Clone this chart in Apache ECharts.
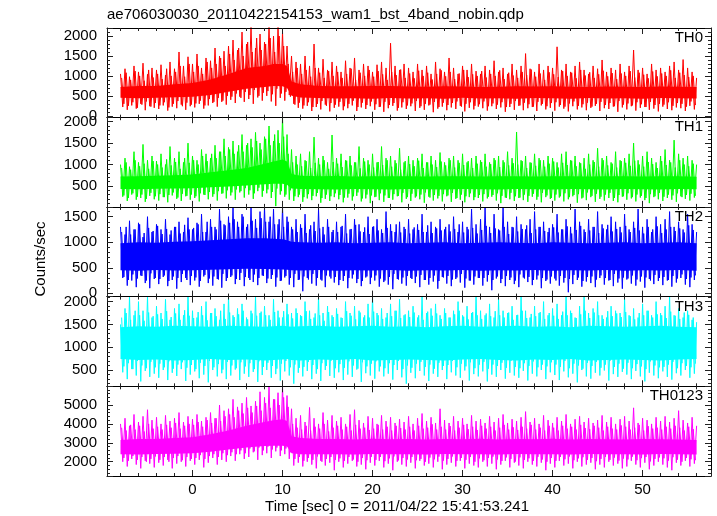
<!DOCTYPE html>
<html><head><meta charset="utf-8">
<script src="https://cdn.jsdelivr.net/npm/echarts@6/dist/echarts.min.js"></script>
<style>html,body{margin:0;padding:0;background:#fff}#c{width:717px;height:516px}</style>
</head><body><div id="c"></div>
<script>
const titleText = 'ae706030030_20110422154153_wam1_bst_4band_nobin.qdp';
const xTitle = 'Time [sec] 0 = 2011/04/22 15:41:53.241';
const yTitle = 'Counts/sec';
const panelNames = ['TH0', 'TH1', 'TH2', 'TH3', 'TH0123'];
const colors = ['#ff0000', '#00ff00', '#0000ff', '#00ffff', '#ff00ff'];
const xTickLabels = [0, 10, 20, 30, 40, 50];
const xRange = [-9.5, 57.6];
const yMin = [-48, 12, -65, 143, 1245];
const yMax = [2202, 2105, 1692, 2110, 5990];
const yStep = [500, 500, 500, 500, 1000];
// layer A: peaks at -8 + 0.5k, troughs at -7.75 + 0.5k
// layer B: peaks at -7.875 + 0.5k, troughs at -7.625 + 0.5k
const tStartA = -8, tStartB = -7.875, halfStep = 0.25;
const coreT = [-8,-6,-4,-2,0,2,4,6,8,9,10,10.5,11,12,14,16,18,20,22,24,26,28,30,32,34,36,38,40,42,44,46,48,50,52,54,56];

// ---------- TH0 ----------
const th0Hi = [1050,1180,980,1250,1100,1320,1040,1200, 1150,1280,1020,1350,1180,1600,1250,1480,
  1300,1550,1200,1450,1380,1700,1500,1620, 1750,1900,1650,2100,1800,2250,1700,2050,
  1850,2250,2000,2250,2100,1750,1500,1350, 1300,1500,1250,1800,1200,1420,1150,1350,
  1250,1100,1380,1200,1450,1150,1300,1250, 1100,1280,1350,1200,1820,1250,1150,1300,
  1200,1100,1300,1150,1250,1050,1350,1180, 1100,1450,1200,1050,1250,1150,1300,1120,
  1050,1250,1150,1380,1100,1200,1050,1300, 1150,1250,1560,1180,1100,1300,1150,1250,
  1200,1730,1150,1300,1100,1250,1350,1150, 1050,1250,1180,1400,1100,1200,1150,1300,
  1100,1250,1650,1150,1200,1050,1300,1150, 1200,1100,1250,1350,1150,1410,1200,1100, 950];
const th0Lo = [220,150,260,180,300,140,240,200, 170,260,130,230,190,280,150,240,
  210,300,180,260,320,230,350,280, 400,320,480,350,420,300,460,380,
  500,360,250,450,380,520,300,200, 180,250,120,220,160,280,110,200,
  230,140,190,260,120,210,170,240, 150,220,100,190,250,130,210,170,
  240,120,200,150,260,90,180,230, 140,210,170,250,110,200,160,230,
  190,130,240,170,210,100,220,150, 250,140,190,220,120,260,160,200,
  130,230,180,110,240,160,210,140, 200,250,120,190,170,230,100,210,
  160,240,130,200,220,150,180,110, 230,170,140,210,190,120,250,160];
const th0Hi2 = [950,1080,900,1120,1000,880,1150,960, 1050,920,1180,1000,1100,1250,980,1300,
  1100,1250,1050,1350,1200,1300,1450,1250, 1550,1400,1700,1500,1850,1600,1950,1650,
  1800,1950,1600,2000,1750,1300,1100,1200, 1050,1150,980,1200,1080,950,1120,1000,
  1100,950,1050,1180,900,1080,1000,1150, 980,1120,1040,900,1100,1020,1160,950,
  1060,940,1130,1000,1080,910,1050,1140, 990,1100,920,1060,1150,970,1040,1000,
  1120,960,1050,1000,1140,920,1080,1010, 950,1100,1020,1160,980,1060,900,1090,
  1040,970,1120,1000,1080,940,1150,1010, 1090,950,1040,1130,990,1070,920,1060,
  1000,1120,960,1080,1030,940,1110,990, 1060,1000,1140,950,1080,1020,970,1000];
const th0Lo2 = [300,250,340,200,280,360,230,320, 260,340,210,300,370,240,330,280,
  310,380,260,420,350,450,380,500, 480,560,450,600,520,650,500,580,
  620,540,680,560,600,480,280,330, 260,340,220,300,370,250,320,280,
  350,240,300,380,220,330,270,360, 290,230,350,270,320,200,340,260,
  310,370,240,300,280,350,220,330, 270,320,360,230,300,340,250,290,
  360,240,310,280,340,220,300,370, 260,330,290,230,350,300,240,320,
  340,270,230,310,360,250,290,330, 230,300,350,270,320,240,370,280,
  310,260,340,290,220,350,270,300, 280,340,250,320,300,230,360,270];
const th0CoreHi = [720,750,750,790,820,910,1050,1200,1250,1300,1300,1250,860,790,750,740,740,745,750,735,730,740,735,725,730,740,735,740,730,725,735,730,725,735,730,720];
const th0CoreLo = [450,440,455,465,480,520,600,680,720,750,740,700,500,460,445,435,440,430,445,435,440,430,450,435,440,430,445,440,430,445,435,440,430,445,440,435];

// ---------- TH1 ----------
const th1Hi = [1000,1150,950,1300,1050,1470,1100,1200, 1080,1250,1000,1420,1150,1300,1050,1500,
  1200,1100,1350,1250,1150,1450,1300,1600, 1400,1550,1300,1700,1450,1600,1750,1500,
  1650,1900,1550,1800,2100,1700,1350,1200, 1250,1100,1300,1640,1150,1200,1050,1690,
  1150,1250,1100,1200,1050,1420,1150,1100, 1250,1050,1420,1150,1200,1100,1380,1050,
  1200,1100,1150,1250,1050,1200,1100,1280, 1050,1150,1200,1100,1250,1050,1150,1200,
  1100,1250,1050,1150,1200,1100,1300,1150, 1760,1100,1200,1050,1250,1150,1100,1200,
  1150,1050,1250,1300,1100,1200,1050,1150, 1250,1100,1380,1150,1200,1050,1300,1100,
  1150,1250,1500,1100,1200,1300,1150,1050, 1200,1350,1100,1570,1250,1150,1200,1100, 1000];
const th1Lo = [250,150,300,180,220,130,270,190, 160,240,120,280,200,150,260,180,
  220,140,300,190,250,160,320,210, 280,180,350,230,300,200,380,250,
  330,220,30,300,250,180,150,240, 130,210,170,260,110,200,150,240,
  190,120,230,160,270,140,210,100, 240,170,130,220,180,260,120,200,
  150,230,190,110,250,160,210,140, 260,130,200,180,120,240,170,220,
  140,210,250,160,100,230,190,150, 220,170,130,250,180,120,240,200,
  160,230,140,190,260,110,210,170, 240,130,200,160,220,150,120,250,
  180,210,140,230,170,100,240,190, 150,220,180,130,260,200,160,230];
const th1Hi2 = [920,1050,880,1100,960,1020,900,1080, 1000,930,1120,980,1060,900,1150,1040,
  1100,1000,1200,1080,1250,1150,1300,1200, 1350,1250,1450,1300,1500,1400,1550,1350,
  1600,1450,1700,1500,1650,1250,1050,1000, 960,1080,920,1040,1000,1100,900,1060,
  1020,940,1090,980,1050,910,1070,1000, 930,1060,990,1100,950,1030,880,1080,
  1010,960,1090,920,1050,1000,940,1070, 980,1100,930,1040,990,1080,920,1020,
  1060,950,1010,1100,940,1050,980,1030, 1000,1080,920,1040,970,1100,950,1020,
  1070,930,1040,990,1090,960,1030,900, 1000,1060,950,1100,980,1020,930,1080,
  1040,970,1090,1000,950,1060,1010,920, 1080,990,1050,930,1100,1000,960,1020];
const th1Lo2 = [280,220,330,250,300,200,340,260, 310,240,290,350,230,320,270,300,
  260,330,290,360,310,380,330,400, 350,420,380,450,400,330,460,390,
  420,360,440,380,300,400,260,300, 240,310,270,340,220,300,260,330,
  290,230,320,260,350,210,300,280, 250,330,280,220,310,270,340,240,
  320,260,300,350,230,290,270,310, 280,340,220,300,260,330,240,290,
  310,250,290,330,270,220,340,260, 230,300,270,320,250,340,280,220,
  300,260,330,240,290,310,230,350, 270,320,250,300,340,220,290,260,
  330,240,300,270,220,310,260,340, 250,300,280,330,240,290,320,270];
const th1CoreHi = [720,730,740,750,770,820,870,920,1020,1070,1120,1070,780,740,730,735,720,730,725,730,720,725,730,720,730,725,720,730,725,720,730,725,720,730,725,715];
const th1CoreLo = [430,425,435,440,450,470,490,510,540,550,550,530,440,430,425,420,430,425,420,430,425,420,430,425,420,430,425,420,430,425,420,430,425,420,430,425];

// ---------- TH2 ----------
const th2Hi = [1300,1150,1420,1250,1380,1100,1500,1200, 1350,1250,1450,1150,1300,1400,1200,1480,
  1250,1380,1550,1200,1450,1300,1650,1350, 1500,1690,1400,1550,1300,1690,1450,1600,
  1690,1400,1650,1350,1690,1500,1300,1450, 1350,1550,1250,1400,1650,1300,1450,1200,
  1400,1300,1550,1250,1450,1350,1200,1500, 1300,1450,1250,1600,1350,1200,1400,1300,
  1450,1250,1350,1550,1200,1400,1300,1450, 1250,1350,1500,1200,1400,1300,1650,1350,
  1450,1690,1300,1550,1250,1690,1400,1300, 1500,1350,1250,1450,1600,1300,1400,1200,
  1350,1550,1250,1450,1300,1650,1400,1250, 1450,1300,1600,1350,1250,1500,1400,1300,
  1550,1250,1400,1650,1300,1450,1200,1500, 1350,1450,1600,1300,1400,1250,1550,1350, 1200];
const th2Lo = [300,150,250,120,350,200,100,280, 180,320,140,260,90,220,300,160,
  250,130,330,200,150,280,110,240, 320,180,260,140,300,220,160,350,
  200,280,130,240,310,170,120,260, 40,300,190,150,270,120,330,210,
  160,240,100,290,200,140,310,180, 250,130,220,170,80,280,190,150,
  300,200,120,260,170,230,90,320, 190,140,280,210,110,250,170,300,
  150,230,60,290,200,140,260,180, 120,310,220,160,270,100,240,190,
  290,150,210,20,180,260,130,230, 200,120,300,170,250,140,210,90,
  270,190,150,230,110,280,180,240, 160,250,130,210,300,170,120,260];
const th2Hi2 = [1200,1300,1150,1250,1350,1180,1280,1220, 1320,1160,1260,1230,1300,1170,1340,1250,
  1280,1350,1200,1400,1300,1250,1420,1330, 1380,1450,1300,1500,1350,1420,1280,1470,
  1400,1500,1350,1450,1300,1400,1250,1200, 1280,1180,1330,1220,1270,1150,1300,1240,
  1200,1320,1170,1260,1340,1210,1290,1160, 1310,1230,1180,1280,1220,1350,1190,1260,
  1170,1290,1240,1200,1330,1180,1270,1230, 1300,1210,1260,1350,1190,1250,1280,1170,
  1240,1320,1180,1270,1230,1300,1160,1290, 1210,1260,1330,1180,1250,1300,1220,1280,
  1290,1190,1250,1310,1170,1240,1320,1200, 1230,1300,1180,1270,1340,1210,1260,1190,
  1320,1200,1280,1230,1170,1300,1250,1310, 1180,1250,1300,1220,1270,1190,1330,1240];
const th2Lo2 = [320,260,370,290,340,250,390,300, 280,350,240,330,300,380,260,340,
  310,240,360,290,330,270,380,300, 350,280,400,320,260,370,300,340,
  290,360,310,250,340,300,380,270, 330,270,380,300,250,350,290,320,
  260,340,300,370,280,240,330,310, 350,290,250,320,380,270,310,340,
  280,330,360,260,300,350,240,310, 340,270,310,380,290,250,330,300,
  300,360,260,330,280,340,310,250, 370,290,320,260,350,300,270,330,
  250,340,300,280,360,310,240,320, 330,270,350,300,260,380,290,310,
  290,350,270,330,310,250,360,300, 320,260,340,290,370,280,310,350];
const th2CoreHi = [980,1000,990,1010,1020,1040,1060,1080,1080,1070,1060,1040,1010,1000,990,1000,980,990,1000,980,990,1000,980,990,1000,990,980,1000,990,980,990,1000,980,990,1000,980];
const th2CoreLo = [450,440,455,445,450,460,470,480,475,470,465,460,450,445,455,440,450,445,455,440,450,445,455,440,450,445,455,440,450,445,455,440,450,445,455,440];

// ---------- TH3 ----------
const th3Hi = [1500,1850,2110,1700,2000,1800,2110,1650, 1900,1750,2050,1600,1850,1950,1700,2110,
  1800,1650,1900,2000,1750,1850,1600,1950, 2110,1700,1850,1950,1650,1800,2110,1750,
  1900,1700,2050,1800,1650,1950,1750,1850, 1700,2000,1800,1650,2110,1750,1900,1700,
  1850,1650,2000,1750,1900,1800,1650,1950, 2110,1750,1850,1650,1950,1800,2050,1700,
  1800,1900,1650,2110,1750,1850,1950,1700, 1850,1650,1800,2000,1700,1900,1750,2110,
  1800,1700,1950,1650,2050,1800,1750,1900, 1700,2110,1800,1650,1900,1750,2000,1700,
  1850,1950,1700,2110,1800,1650,1900,2110, 1750,1850,2000,1700,1650,1900,1800,1750,
  2050,1700,1850,1650,1950,1800,1700,2000, 1750,1900,2110,1700,1850,1650,1800,1600, 1550];
const th3Lo = [450,300,520,380,250,480,350,420, 330,500,280,440,370,520,260,400,
  470,320,400,230,500,360,430,300, 380,510,280,420,350,460,240,390,
  500,330,410,270,470,380,200,440, 360,480,300,420,260,500,370,330,
  450,280,400,350,510,240,430,380, 310,470,360,420,290,500,340,200,
  440,320,480,380,260,420,350,500, 300,450,380,330,490,270,410,360,
  470,250,400,350,500,310,440,380, 330,480,270,420,360,500,300,450,
  390,280,470,340,420,230,500,360, 310,440,380,490,270,410,350,460,
  400,300,480,360,250,440,380,320, 470,350,290,430,380,500,330,420];
const th3Hi2 = [1650,1750,1600,1800,1700,1580,1760,1680, 1720,1620,1790,1660,1740,1600,1810,1690,
  1640,1770,1700,1590,1750,1680,1800,1620, 1760,1660,1720,1800,1610,1740,1690,1780,
  1700,1600,1770,1650,1790,1720,1630,1750, 1680,1790,1620,1740,1700,1580,1770,1660,
  1730,1640,1790,1690,1610,1760,1700,1650, 1780,1700,1620,1750,1680,1800,1640,1720,
  1660,1760,1700,1600,1780,1690,1740,1620, 1750,1650,1720,1800,1670,1610,1770,1700,
  1620,1740,1680,1790,1700,1650,1760,1600, 1710,1800,1640,1730,1680,1770,1620,1750,
  1690,1620,1780,1700,1750,1640,1720,1800, 1640,1760,1700,1620,1790,1680,1740,1660,
  1770,1680,1610,1750,1700,1800,1650,1720, 1700,1640,1780,1690,1620,1760,1710,1650];
const th3Lo2 = [580,650,520,700,600,540,680,560, 640,560,690,530,620,670,550,610,
  520,660,590,700,560,630,510,680, 600,540,670,580,650,520,690,570,
  660,590,530,640,700,560,620,550, 570,680,610,520,650,590,700,540,
  630,550,690,600,530,670,580,640, 690,580,540,650,610,700,520,600,
  550,640,680,570,620,530,660,590, 610,700,560,640,580,670,540,620,
  680,530,620,590,660,550,700,570, 540,650,590,690,560,620,580,670,
  620,570,700,540,640,600,530,660, 590,680,550,620,700,570,640,530,
  660,540,630,580,520,690,600,560, 570,620,680,540,650,590,560,640];
const th3CoreHi = [1440,1460,1450,1470,1460,1450,1470,1460,1450,1460,1470,1460,1450,1460,1470,1450,1460,1470,1450,1460,1440,1460,1470,1450,1460,1470,1450,1460,1440,1470,1460,1450,1460,1470,1450,1440];
const th3CoreLo = [740,720,730,710,720,740,720,730,710,720,730,740,720,710,730,720,740,710,720,730,720,710,730,740,720,710,730,720,740,710,720,730,720,710,730,740];

// ---------- TH0123 ----------
const th4Hi = [4000,4300,3900,4500,4100,4400,4750,4200, 4350,4000,4450,4150,4300,4600,4100,4400,
  4250,4500,4150,4350,4600,4300,5000,4700, 4800,5300,4900,5100,5400,4950,5200,5700,
  5400,5990,5300,5650,5990,5500,4800,4300, 4450,4100,4870,4300,4000,4600,4200,4450,
  4150,4350,4000,4500,4750,4200,4050,4400, 4300,4000,4450,4150,4350,4050,4250,4100,
  4400,4000,4300,4550,4150,4350,4050,4800, 4200,4050,4400,4150,4300,4000,4450,4150,
  4250,4050,4400,4100,4300,4500,4050,4250, 4150,4350,4650,4100,4300,4000,4450,4200,
  4050,4350,4150,4500,4000,4250,4400,4100, 4300,4050,4200,4450,4100,4350,4000,4250,
  4400,4150,4850,4050,4300,4200,4000,4350, 4150,4400,4100,4300,4700,4200,4050,4350, 3900];
const th4Lo = [2000,1750,2150,1850,1650,2050,1900,1700, 1950,1800,2100,1650,1900,2000,1750,2050,
  1850,2100,1700,1950,2200,1850,2100,2000, 2300,2050,2400,2150,2250,2500,2100,2350,
  2450,2200,2550,2300,2400,2150,1800,1950, 1750,2000,1850,1650,2050,1800,1950,1550,
  2000,1700,1900,2050,1750,1850,1600,1950, 1800,2050,1700,1900,1550,2000,1850,1750,
  1950,1650,2050,1800,1900,1700,2000,1600, 1850,1950,1750,2050,1650,1900,1800,1700,
  2000,1750,1900,1600,1850,2050,1700,1950, 1800,1650,2000,1850,1750,1950,1550,1900,
  1700,2050,1800,1900,1650,2000,1750,1850, 1950,1600,1850,1700,2000,1800,1900,1650,
  1750,2050,1850,1700,1950,1600,1800,2000, 1850,1700,1550,1950,1800,2050,1750,1900];
const th4Hi2 = [3800,3650,3950,3700,3900,3600,4000,3750, 3850,3700,3950,3800,4050,3750,3900,4000,
  3950,4100,3850,4200,4050,4300,4150,4400, 4500,4350,4700,4550,4850,4600,4950,4700,
  5100,4850,5300,5000,5400,4900,4000,3800, 3700,3900,3650,3850,3750,4000,3600,3800,
  3900,3700,3850,3650,3950,3750,3800,3680, 3750,3950,3700,3850,3650,3900,3780,3700,
  3850,3650,3900,3750,3800,3980,3700,3850, 3700,3880,3650,3800,3950,3720,3850,3680,
  3900,3750,3850,3650,3800,3950,3700,3820, 3680,3850,3750,3950,3700,3800,3650,3900,
  3800,3650,3900,3750,3850,3700,3950,3780, 3720,3900,3800,3650,3850,3750,3700,3920,
  3850,3700,3800,3950,3650,3880,3750,3800, 3700,3850,3750,3900,3800,3650,3850,3720];
const th4Lo2 = [2200,2050,2300,2100,2250,2000,2150,2280, 2100,2250,2000,2200,2300,2080,2250,2150,
  2200,2350,2150,2300,2400,2250,2450,2350, 2500,2400,2600,2450,2700,2550,2750,2600,
  2800,2650,2750,2600,2700,2500,2150,2250, 2050,2200,2100,2280,2000,2150,2250,2100,
  2180,2050,2250,2120,2000,2200,2080,2260, 2100,2250,2030,2180,2280,2070,2200,2120,
  2250,2080,2150,2000,2220,2130,2270,2060, 2150,2280,2050,2200,2100,2250,2000,2180,
  2080,2200,2270,2120,2040,2230,2150,2010, 2230,2100,2180,2050,2260,2120,2000,2200,
  2050,2250,2130,2280,2080,2180,2240,2100, 2200,2030,2150,2260,2100,2220,2060,2170,
  2120,2270,2080,2190,2250,2020,2150,2230, 2180,2060,2240,2110,2000,2200,2130,2080];
const th4CoreHi = [3150,3200,3200,3250,3300,3450,3650,3900,4100,4200,4250,4150,3350,3250,3200,3200,3180,3210,3190,3200,3170,3200,3190,3210,3180,3200,3190,3210,3180,3200,3190,3170,3200,3190,3180,3150];
const th4CoreLo = [2400,2380,2410,2420,2450,2530,2650,2750,2830,2850,2850,2800,2450,2400,2390,2400,2380,2410,2390,2400,2380,2410,2390,2400,2380,2410,2390,2400,2380,2410,2390,2400,2380,2410,2390,2380];

const hiAll = [th0Hi, th1Hi, th2Hi, th3Hi, th4Hi];
const loAll = [th0Lo, th1Lo, th2Lo, th3Lo, th4Lo];
const hi2All = [th0Hi2, th1Hi2, th2Hi2, th3Hi2, th4Hi2];
const lo2All = [th0Lo2, th1Lo2, th2Lo2, th3Lo2, th4Lo2];
const coreHiAll = [th0CoreHi, th1CoreHi, th2CoreHi, th3CoreHi, th4CoreHi];
const coreLoAll = [th0CoreLo, th1CoreLo, th2CoreLo, th3CoreLo, th4CoreLo];

const FONT = '"Liberation Sans", Arial, Helvetica, sans-serif';
const tops = [28, 117.2, 206.9, 296.6, 386.3];
const panelH = 89.7;
const gridLeft = 107, gridW = 604;

function zigzag(peaks, troughs, t0) {
  const out = [];
  for (let k = 0; k < peaks.length; k++) {
    out.push([t0 + 2 * k * halfStep, peaks[k]]);
    if (k < troughs.length) out.push([t0 + (2 * k + 1) * halfStep, troughs[k]]);
  }
  return out;
}

const grids = [], xAxes = [], yAxes = [], series = [], graphics = [];
const lineCol = '#000';
for (let i = 0; i < 5; i++) {
  grids.push({left: gridLeft, top: tops[i], width: gridW, height: panelH, show: false});
  ['bottom', 'top'].forEach(function (pos) {
    xAxes.push({
      type: 'value', gridIndex: i, position: pos, min: xRange[0], max: xRange[1],
      minInterval: 10, maxInterval: 10, z: 10,
      axisLine: {show: true, onZero: false, lineStyle: {color: lineCol, width: 1}},
      axisTick: {show: true, inside: true, length: 6, lineStyle: {color: '#222', width: 1}},
      minorTick: {show: true, splitNumber: 5, length: 3, lineStyle: {color: '#222', width: 1}},
      splitLine: {show: false}, minorSplitLine: {show: false},
      axisLabel: {show: pos === 'bottom' && i === 4, margin: 6, color: '#000', fontSize: 15, fontFamily: FONT,
        formatter: function (v) { return xTickLabels.indexOf(v) >= 0 ? String(v) : ''; }}
    });
  });
  ['left', 'right'].forEach(function (pos) {
    yAxes.push({
      type: 'value', gridIndex: i, position: pos, min: yMin[i], max: yMax[i],
      minInterval: yStep[i], maxInterval: yStep[i], z: 10,
      axisLine: {show: true, onZero: false, lineStyle: {color: lineCol, width: 1}},
      axisTick: {show: true, inside: true, length: 6, lineStyle: {color: '#222', width: 1}},
      minorTick: {show: true, splitNumber: 5, length: 3, lineStyle: {color: '#222', width: 1}},
      splitLine: {show: false}, minorSplitLine: {show: false},
      axisLabel: {show: pos === 'left', margin: 10, color: '#000', fontSize: 15, fontFamily: FONT, hideOverlap: false,
        formatter: function (v) { return Math.abs(v % yStep[i]) < 1e-6 ? String(v) : ''; }}
    });
  });
  const cHi = coreHiAll[i], cLo = coreLoAll[i], col = colors[i];
  series.push({
    type: 'custom', xAxisIndex: 2 * i, yAxisIndex: 2 * i, silent: true, z: 2, clip: true,
    data: [[coreT[0], cLo[0]]],
    renderItem: function (params, api) {
      const pts = [];
      for (let j = 0; j < coreT.length; j++) pts.push(api.coord([coreT[j], cHi[j]]));
      for (let j = coreT.length - 1; j >= 0; j--) pts.push(api.coord([coreT[j], cLo[j]]));
      return {type: 'polygon', shape: {points: pts}, style: {fill: col, stroke: null}};
    }
  });
  [[hiAll[i], loAll[i], tStartA], [hi2All[i], lo2All[i], tStartB]].forEach(function (layer) {
    series.push({
      type: 'line', xAxisIndex: 2 * i, yAxisIndex: 2 * i, data: zigzag(layer[0], layer[1], layer[2]),
      showSymbol: false, symbol: 'none', silent: true, z: 3, clip: true,
      lineStyle: {color: col, width: 1}
    });
  });
  graphics.push({type: 'text', x: 703, y: tops[i] + 10, z: 20,
    style: {text: panelNames[i], font: '15px ' + FONT, fill: '#000', align: 'right', verticalAlign: 'middle'}});
}
graphics.push({type: 'text', x: 107, y: 15, style: {text: titleText, font: '15px ' + FONT, fill: '#000', align: 'left', verticalAlign: 'middle'}});
graphics.push({type: 'text', x: 397, y: 507, style: {text: xTitle, font: '15px ' + FONT, fill: '#000', align: 'center', verticalAlign: 'middle'}});
graphics.push({type: 'text', x: 41, y: 259, rotation: Math.PI / 2, style: {text: yTitle, font: '15px ' + FONT, fill: '#000', align: 'center', verticalAlign: 'middle'}});

const chart = echarts.init(document.getElementById('c'), null, {renderer: 'canvas'});
chart.setOption({
  animation: false,
  backgroundColor: '#fff',
  grid: grids, xAxis: xAxes, yAxis: yAxes, series: series,
  graphic: graphics
});
</script>
</body></html>
